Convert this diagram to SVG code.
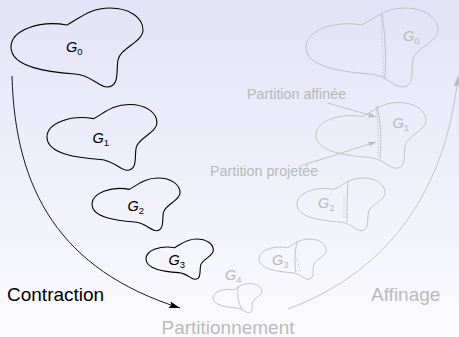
<svg xmlns="http://www.w3.org/2000/svg" xmlns:xlink="http://www.w3.org/1999/xlink" width="459" height="337" viewBox="0 0 459 337">
  <defs>
    <linearGradient id="bg" x1="0" y1="0" x2="0" y2="1">
      <stop offset="0" stop-color="#e3e3f7"/>
      <stop offset="1" stop-color="#fbfbfe"/>
    </linearGradient>
    <!-- generic graph outline, 132 x 80 units -->
    <path id="blob" vector-effect="non-scaling-stroke" d="M56,17 C69,10 79,0 99,0 C119,0 132,10 132,22 C132,34 109,40 107,52 C105,62 109,79 96,79 C88,79 80,67 64,66 C39,64 0,60 0,39 C0,22 29,12 56,17 Z"/>
    <marker id="headBlack" markerUnits="userSpaceOnUse" markerWidth="12" markerHeight="8" refX="11" refY="4" orient="auto" overflow="visible">
      <path d="M0,0.6 L11,4 L0,7.4 L2,4 Z" fill="#000"/>
    </marker>
    <marker id="headGray" markerUnits="userSpaceOnUse" markerWidth="12" markerHeight="8" refX="11" refY="4" orient="auto" overflow="visible">
      <path d="M0,0.8 L11,4 L0,7.2 L2,4 Z" fill="#bbbbbb"/>
    </marker>
    <marker id="headGraySmall" markerUnits="userSpaceOnUse" markerWidth="9" markerHeight="6" refX="8" refY="3" orient="auto" overflow="visible">
      <path d="M0,0.5 L8,3 L0,5.5 L1.5,3 Z" fill="#bbbbbb"/>
    </marker>
  </defs>
  <style>
    .dark { fill: none; stroke: #000; stroke-width: 1.1; }
    .pale { fill: none; stroke: #bdbdbd; stroke-width: 0.9; }
    .cut { fill: none; stroke: #bdbdbd; stroke-width: 0.9; }
    .proj { fill: none; stroke: #bdbdbd; stroke-width: 0.9; stroke-dasharray: 1.5 1.5; }
    .lbl { font-family: "Liberation Sans", Arial, sans-serif; font-style: italic; font-size: 14.5px; }
    .sub { font-size: 9.5px; font-style: normal; }
    .darkText { fill: #000; }
    .paleText { fill: #bbbbbb; }
    .big { font-family: "Liberation Sans", Arial, sans-serif; font-size: 19px; }
    .note { font-family: "Liberation Sans", Arial, sans-serif; font-size: 14.3px; fill: #b8b8b8; }
  </style>

  <rect x="0" y="0" width="459" height="337" fill="url(#bg)"/>

  <!-- contraction phase -->
  <g id="G0-coarsen">
    <use xlink:href="#blob" class="dark" transform="translate(11,8)"/>
    <text class="lbl darkText" x="66" y="52">G<tspan class="sub" dy="3">0</tspan></text>
  </g>
  <g id="G1-coarsen">
    <use xlink:href="#blob" class="dark" transform="translate(47,104.5) scale(0.833)"/>
    <text class="lbl darkText" x="92.5" y="143">G<tspan class="sub" dy="3">1</tspan></text>
  </g>
  <g id="G2-coarsen">
    <use xlink:href="#blob" class="dark" transform="translate(92,178) scale(0.667)"/>
    <text class="lbl darkText" x="127.5" y="211">G<tspan class="sub" dy="3">2</tspan></text>
  </g>
  <g id="G3-coarsen">
    <use xlink:href="#blob" class="dark" transform="translate(146,239) scale(0.51)"/>
    <text class="lbl darkText" x="168.5" y="265">G<tspan class="sub" dy="3">3</tspan></text>
  </g>

  <!-- coarsest graph, partitioned -->
  <g id="G4-partition">
    <use xlink:href="#blob" class="pale" transform="translate(213,283.5) scale(0.37)"/>
    <path class="cut" d="M238,287 C237,297 239,305 242,309"/>
    <text class="lbl paleText" x="225" y="280">G<tspan class="sub" dy="3">4</tspan></text>
  </g>

  <!-- refinement phase -->
  <g id="G3-refine">
    <use xlink:href="#blob" class="pale" transform="translate(259,239) scale(0.51)"/>
    <path class="cut" d="M297,241 C295,252 294,262 296,272"/>
    <path class="proj" d="M297,258 L300,271"/>
    <text class="lbl paleText" x="272" y="265">G<tspan class="sub" dy="3">3</tspan></text>
  </g>
  <g id="G2-refine">
    <use xlink:href="#blob" class="pale" transform="translate(297,178) scale(0.667)"/>
    <path class="cut" d="M348,181 C347,195 347,210 347,222"/>
    <path class="proj" d="M344,195 L344,219"/>
    <text class="lbl paleText" x="318" y="208">G<tspan class="sub" dy="3">2</tspan></text>
  </g>
  <g id="G1-refine">
    <use xlink:href="#blob" class="pale" transform="translate(316,102.5) scale(0.833)"/>
    <path class="cut" d="M377,106 Q383,130 380,159"/>
    <path class="proj" d="M376,107 Q379,133 378,157"/>
    <text class="lbl paleText" x="392.5" y="128">G<tspan class="sub" dy="3">1</tspan></text>
  </g>
  <g id="G0-refine">
    <use xlink:href="#blob" class="pale" transform="translate(306,8)"/>
    <path class="cut" d="M382,14 Q387,45 385,78"/>
    <path class="proj" d="M381,15 Q383,45 383,77"/>
    <text class="lbl paleText" x="403" y="40.5">G<tspan class="sub" dy="3">0</tspan></text>
  </g>

  <!-- phase labels -->
  <g id="labels">
    <text class="big" x="7" y="301" fill="#000">Contraction</text>
    <text class="big" x="228" y="334" text-anchor="middle" fill="#bbbbbb">Partitionnement</text>
    <text class="big" x="371" y="301" fill="#bbbbbb">Affinage</text>
    <text class="note" x="247" y="99">Partition affinée</text>
    <text class="note" x="210" y="176">Partition projetée</text>
  </g>

  <g id="connectors">
    <path d="M12,76 C15,190 60,270 180,308" fill="none" stroke="#000" stroke-width="0.9" marker-end="url(#headBlack)"/>
    <path d="M288,309 C380,275 445,200 458,76" fill="none" stroke="#bdbdbd" stroke-width="0.9" marker-end="url(#headGray)"/>
    <path d="M328,103 L376,117" fill="none" stroke="#bdbdbd" stroke-width="0.9" marker-end="url(#headGraySmall)"/>
    <path d="M300,166 L376,142" fill="none" stroke="#bdbdbd" stroke-width="0.9" marker-end="url(#headGraySmall)"/>
  </g>
</svg>
